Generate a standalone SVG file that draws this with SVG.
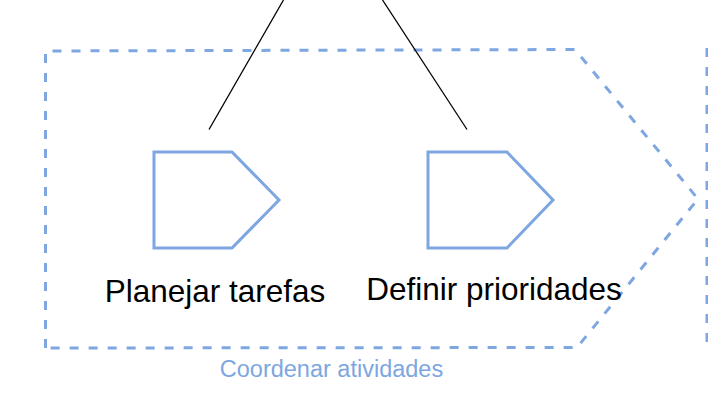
<svg xmlns="http://www.w3.org/2000/svg" width="708" height="402" viewBox="0 0 708 402">
<style>
.dash{fill:none;stroke:#7EA6E0;stroke-width:3;stroke-dasharray:9 10;}
.shape{fill:#FFFFFF;stroke:#7EA6E0;stroke-width:3;}
.conn{fill:none;stroke:#000000;stroke-width:1.3;}
.lbl{font-family:"Liberation Sans",Arial,sans-serif;font-size:31.5px;fill:#000000;text-anchor:middle;}
.glbl{font-family:"Liberation Sans",Arial,sans-serif;font-size:23.5px;fill:#7EA6E0;text-anchor:middle;}
</style>
<rect width="708" height="402" fill="#FFFFFF"/>
<g id="group-coordenar">
<path class="dash" d="M45.5,348 L45.5,51 L575,49.5 L698,199 L577,347.5 Z"/>
<text class="glbl" x="331.5" y="376.5">Coordenar atividades</text>
</g>
<g id="group-right">
<path class="dash" d="M707,48 L707,343"/>
</g>
<g id="node-planejar">
<path class="shape" d="M154,152 L232,152 L279,200 L232,248 L154,248 Z"/>
<text class="lbl" x="215" y="301.5">Planejar tarefas</text>
</g>
<g id="node-definir">
<path class="shape" d="M428,152 L507,152 L553,200 L507,248 L428,248 Z"/>
<text class="lbl" x="494" y="299.5">Definir prioridades</text>
</g>
<g id="connectors">
<path class="conn" d="M283.5,0 L209,129.5"/>
<path class="conn" d="M382.5,0 L467,129.5"/>
</g>
</svg>
